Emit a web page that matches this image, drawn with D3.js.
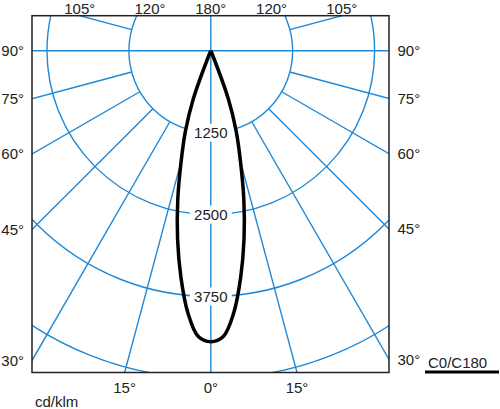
<!DOCTYPE html>
<html lang="en">
<head>
<meta charset="utf-8">
<title>Polar intensity diagram</title>
<script src="https://d3js.org/d3.v7.min.js"></script>
<style>
  body { margin: 0; background: #fff; }
  text { font-family: "Liberation Sans", Arial, sans-serif; font-size: 15px; fill: #222; }
</style>
</head>
<body>
<script>
// gamma angles (deg) and intensity (cd/klm)
var gammaDeg = [0, 2.5, 5, 7.5, 10, 12.5, 15, 17.5, 20, 22.5, 25];
var c0 = [4440, 4365, 4015, 3490, 2920, 2330, 1750, 1290, 780, 90, 0];
var c180 = [4440, 4365, 4015, 3490, 2920, 2330, 1750, 1290, 780, 90, 0];

var rings = [1250, 2500, 3750, 5000];
var ringLabels = [1250, 2500, 3750];
var spokes = [15, 30, 45, 60, 75, 105, 120, 135, 150, 165];
var topTicks = [105, 120, 180];
var sideTicks = [90, 75, 60, 45, 30];
var bottomTicks = [15, 0];

var width = 500, height = 409;
var fx0 = 32, fx1 = 389, fy0 = 15.7, fy1 = 372.5;
var cx = 210.8, cy = 50.8;
var blue = "#1e88d6";

var svg = d3.select("body").append("svg")
    .attr("width", width)
    .attr("height", height);

var r = d3.scaleLinear().domain([0, 5000]).range([0, 327.6]);
var rad = function(d) { return d * Math.PI / 180; };

svg.append("clipPath").attr("id", "frame")
  .append("rect")
    .attr("x", fx0).attr("y", fy0)
    .attr("width", fx1 - fx0).attr("height", fy1 - fy0);

var grid = svg.append("g").attr("clip-path", "url(#frame)");

// spokes start on the first ring
[-1, 1].forEach(function(side) {
  grid.selectAll(null)
    .data(spokes)
    .enter().append("line")
      .attr("x1", function(d) { return cx + side * r(1250) * Math.sin(rad(d)); })
      .attr("y1", function(d) { return cy + r(1250) * Math.cos(rad(d)); })
      .attr("x2", function(d) { return cx + side * 700 * Math.sin(rad(d)); })
      .attr("y2", function(d) { return cy + 700 * Math.cos(rad(d)); })
      .attr("stroke", blue).attr("stroke-width", 1.4);
});
grid.append("line")
    .attr("x1", fx0).attr("x2", fx1).attr("y1", cy).attr("y2", cy)
    .attr("stroke", blue).attr("stroke-width", 1.4);

// beam, white fill hides the spokes
var pts = [];
for (var i = gammaDeg.length - 1; i > 0; i--) pts.push([Math.PI + rad(gammaDeg[i]), c180[i]]);
for (var j = 0; j < gammaDeg.length; j++) pts.push([Math.PI - rad(gammaDeg[j]), c0[j]]);

var beam = d3.lineRadial()
    .angle(function(d) { return d[0]; })
    .radius(function(d) { return r(d[1]); })
    .curve(d3.curveCatmullRom);

svg.append("g").attr("transform", "translate(" + cx + "," + cy + ")")
  .append("path")
    .attr("d", beam(pts))
    .attr("fill", "#fff")
    .attr("stroke", "none");

grid = svg.append("g").attr("clip-path", "url(#frame)");
grid.selectAll("circle")
  .data(rings)
  .enter().append("circle")
    .attr("cx", cx).attr("cy", cy)
    .attr("r", function(d) { return r(d); })
    .attr("fill", "none")
    .attr("stroke", blue).attr("stroke-width", 1.4);
grid.append("line")
    .attr("x1", cx).attr("x2", cx).attr("y1", fy0).attr("y2", fy1)
    .attr("stroke", blue).attr("stroke-width", 1.4);

// ring values on white boxes
var lab = svg.selectAll("g.rl")
  .data(ringLabels)
  .enter().append("g")
    .attr("class", "rl")
    .attr("transform", function(d) { return "translate(" + cx + "," + (cy + r(d)) + ")"; });
lab.append("rect")
    .attr("x", function(d) { return d === 1250 ? -25 : -21; })
    .attr("width", function(d) { return d === 1250 ? 50 : 42; })
    .attr("y", -9).attr("height", 18)
    .attr("fill", "#fff");
lab.append("text")
    .attr("text-anchor", "middle")
    .attr("dy", "0.36em")
    .text(function(d) { return d; });

svg.append("g").attr("transform", "translate(" + cx + "," + cy + ")")
  .append("path")
    .attr("d", beam(pts))
    .attr("fill", "none")
    .attr("stroke", "#000")
    .attr("stroke-width", 3.5)
    .attr("stroke-linejoin", "round");

svg.append("rect")
    .attr("x", fx0).attr("y", fy0)
    .attr("width", fx1 - fx0).attr("height", fy1 - fy0)
    .attr("fill", "none")
    .attr("stroke", "#222").attr("stroke-width", 1.5);

// angle labels where the spokes meet the frame
var topX = function(d) { return (fy0 - cy) / Math.cos(rad(d)) * Math.sin(rad(d)); };
[-1, 1].forEach(function(side) {
  svg.selectAll(null)
    .data(side < 0 ? topTicks : topTicks.filter(function(d) { return d !== 180; }))
    .enter().append("text")
      .attr("x", function(d) { return cx + side * topX(d); })
      .attr("y", 13.5)
      .attr("text-anchor", "middle")
      .text(function(d) { return d + "°"; });

  svg.selectAll(null)
    .data(sideTicks)
    .enter().append("text")
      .attr("x", side < 0 ? 24 : 397.5)
      .attr("y", function(d) {
        var dx = side < 0 ? cx - fx0 : fx1 - cx;
        return cy + dx / Math.tan(rad(d));
      })
      .attr("dy", "0.36em")
      .attr("text-anchor", side < 0 ? "end" : "start")
      .text(function(d) { return d + "°"; });

  svg.selectAll(null)
    .data(side < 0 ? bottomTicks : bottomTicks.filter(function(d) { return d !== 0; }))
    .enter().append("text")
      .attr("x", function(d) { return cx + side * (fy1 - cy) * Math.tan(rad(d)); })
      .attr("y", 392.5)
      .attr("text-anchor", "middle")
      .text(function(d) { return d + "°"; });
});

svg.append("text").attr("x", 35).attr("y", 407).text("cd/klm");
svg.append("text").attr("x", 428).attr("y", 368).text("C0/C180");
svg.append("line")
    .attr("x1", 425).attr("x2", 499).attr("y1", 372).attr("y2", 372)
    .attr("stroke", "#000").attr("stroke-width", 3);
</script>
</body>
</html>
